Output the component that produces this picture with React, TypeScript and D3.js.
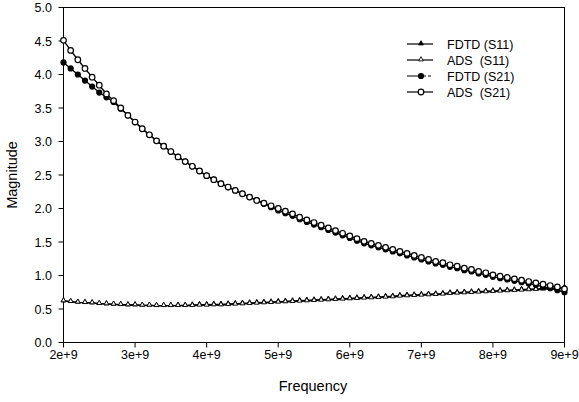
import React from 'react';
import * as d3 from 'd3';

// frequency samples, in units of 1e9 Hz
const freqs = [
  2.0, 2.1, 2.2, 2.3, 2.4, 2.5, 2.6, 2.7, 2.8, 2.9,
  3.0, 3.1, 3.2, 3.3, 3.4, 3.5, 3.6, 3.7, 3.8, 3.9,
  4.0, 4.1, 4.2, 4.3, 4.4, 4.5, 4.6, 4.7, 4.8, 4.9,
  5.0, 5.1, 5.2, 5.3, 5.4, 5.5, 5.6, 5.7, 5.8, 5.9,
  6.0, 6.1, 6.2, 6.3, 6.4, 6.5, 6.6, 6.7, 6.8, 6.9,
  7.0, 7.1, 7.2, 7.3, 7.4, 7.5, 7.6, 7.7, 7.8, 7.9,
  8.0, 8.1, 8.2, 8.3, 8.4, 8.5, 8.6, 8.7, 8.8, 8.9, 9.0,
];

const fdtdS11 = [
  0.62, 0.61, 0.60, 0.595, 0.59, 0.58, 0.575, 0.57, 0.565, 0.56,
  0.56, 0.555, 0.555, 0.55, 0.55, 0.55, 0.555, 0.555, 0.56, 0.565,
  0.565, 0.57, 0.57, 0.575, 0.58, 0.585, 0.59, 0.595, 0.60, 0.605,
  0.61, 0.615, 0.62, 0.625, 0.63, 0.635, 0.64, 0.645, 0.65, 0.655,
  0.66, 0.665, 0.67, 0.675, 0.68, 0.685, 0.69, 0.70, 0.705, 0.71,
  0.715, 0.72, 0.725, 0.73, 0.74, 0.745, 0.75, 0.755, 0.76, 0.765,
  0.77, 0.775, 0.78, 0.785, 0.79, 0.795, 0.80, 0.805, 0.81, 0.815, 0.82,
];

const adsS11 = [
  0.62, 0.61, 0.60, 0.595, 0.59, 0.58, 0.575, 0.57, 0.565, 0.56,
  0.56, 0.555, 0.555, 0.55, 0.55, 0.55, 0.55, 0.55, 0.55, 0.555,
  0.555, 0.56, 0.56, 0.565, 0.57, 0.575, 0.58, 0.585, 0.59, 0.595,
  0.60, 0.605, 0.61, 0.615, 0.62, 0.625, 0.63, 0.635, 0.64, 0.645,
  0.65, 0.655, 0.66, 0.665, 0.67, 0.675, 0.68, 0.69, 0.695, 0.70,
  0.705, 0.71, 0.715, 0.72, 0.73, 0.735, 0.74, 0.745, 0.75, 0.755,
  0.76, 0.765, 0.77, 0.775, 0.78, 0.785, 0.79, 0.795, 0.80, 0.805, 0.81,
];

const fdtdS21 = [
  4.18, 4.09, 4.00, 3.91, 3.82, 3.73, 3.66, 3.59, 3.49, 3.39,
  3.29, 3.19, 3.10, 3.01, 2.93, 2.85, 2.77, 2.70, 2.63, 2.56,
  2.49, 2.43, 2.37, 2.32, 2.27, 2.22, 2.17, 2.12, 2.07, 2.02,
  1.97, 1.93, 1.89, 1.84, 1.80, 1.76, 1.72, 1.68, 1.64, 1.60,
  1.56, 1.52, 1.48, 1.45, 1.42, 1.39, 1.36, 1.33, 1.30, 1.27,
  1.24, 1.21, 1.18, 1.16, 1.13, 1.11, 1.08, 1.06, 1.03, 1.01,
  0.98, 0.96, 0.94, 0.92, 0.90, 0.88, 0.86, 0.83, 0.81, 0.78, 0.75,
];

const adsS21 = [
  4.51, 4.36, 4.22, 4.09, 3.96, 3.84, 3.71, 3.61, 3.50, 3.39,
  3.29, 3.19, 3.10, 3.01, 2.93, 2.85, 2.77, 2.70, 2.63, 2.56,
  2.49, 2.43, 2.37, 2.32, 2.27, 2.22, 2.17, 2.12, 2.08, 2.04,
  2.00, 1.96, 1.92, 1.87, 1.83, 1.79, 1.75, 1.71, 1.67, 1.63,
  1.59, 1.55, 1.51, 1.48, 1.45, 1.42, 1.39, 1.36, 1.33, 1.30,
  1.27, 1.24, 1.21, 1.19, 1.16, 1.14, 1.11, 1.09, 1.06, 1.04,
  1.01, 0.99, 0.97, 0.95, 0.93, 0.91, 0.89, 0.87, 0.85, 0.83, 0.80,
];

const seriesNames = ['FDTD (S11)', 'ADS  (S11)', 'FDTD (S21)', 'ADS  (S21)'];
const xTicks = [2, 3, 4, 5, 6, 7, 8, 9];
const yTicks = [0, 0.5, 1, 1.5, 2, 2.5, 3, 3.5, 4, 4.5, 5];

const W = 579;
const H = 402;
const FONT = '"Liberation Sans", Arial, sans-serif';

const x = d3.scaleLinear().domain([2, 9]).range([63.5, 564.5]);
const y = d3.scaleLinear().domain([0, 5]).range([342.5, 7.5]);

const tri = d3.symbol().type(d3.symbolTriangle).size(10)();

type Kind = 'triFill' | 'triOpen' | 'dotFill' | 'dotOpen';

const Marker = ({ kind, cx, cy }: { kind: Kind; cx: number; cy: number }) => {
  if (kind === 'triFill' || kind === 'triOpen') {
    return (
      <path
        d={tri as string}
        transform={`translate(${cx},${cy - 0.5})`}
        fill={kind === 'triFill' ? '#000' : '#fff'}
        stroke="#000"
        strokeWidth={0.9}
      />
    );
  }
  return (
    <circle
      cx={cx}
      cy={cy}
      r={kind === 'dotFill' ? 2.5 : 2.8}
      fill={kind === 'dotFill' ? '#000' : '#fff'}
      stroke="#000"
      strokeWidth={1.2}
    />
  );
};

const series: { name: string; values: number[]; kind: Kind }[] = [
  { name: seriesNames[0], values: fdtdS11, kind: 'triFill' },
  { name: seriesNames[1], values: adsS11, kind: 'triOpen' },
  { name: seriesNames[2], values: fdtdS21, kind: 'dotFill' },
  { name: seriesNames[3], values: adsS21, kind: 'dotOpen' },
];

export default function App() {
  const line = d3
    .line<number>()
    .x((_, i) => x(freqs[i]))
    .y((d) => y(d));

  return (
    <svg
      width={W}
      height={H}
      style={{ position: 'absolute', left: 0, top: 0, background: '#fff' }}
      fontFamily={FONT}
    >
      <rect x={0} y={0} width={W} height={H} fill="#fff" />

      {/* plot frame */}
      <rect
        x={x(2)}
        y={y(5)}
        width={x(9) - x(2)}
        height={y(0) - y(5)}
        fill="none"
        stroke="#000"
        strokeWidth={1}
      />

      {/* y axis */}
      {yTicks.map((t) => (
        <g key={t}>
          <line x1={x(2) - 5} x2={x(2)} y1={y(t)} y2={y(t)} stroke="#000" />
          <text x={52} y={y(t) + 4.5} textAnchor="end" fontSize={12.5}>
            {d3.format('.1f')(t)}
          </text>
        </g>
      ))}

      {/* x axis */}
      {xTicks.map((t) => (
        <g key={t}>
          <line x1={x(t)} x2={x(t)} y1={y(0)} y2={y(0) + 5} stroke="#000" />
          <text x={x(t)} y={359} textAnchor="middle" fontSize={12.5}>
            {`${t}e+9`}
          </text>
        </g>
      ))}

      <text x={313} y={391} textAnchor="middle" fontSize={14.5}>
        Frequency
      </text>
      <text
        transform={`translate(17,175) rotate(-90)`}
        textAnchor="middle"
        fontSize={14.5}
      >
        Magnitude
      </text>

      {/* series */}
      {series.map((s) => (
        <g key={s.name}>
          <path d={line(s.values) as string} fill="none" stroke="#000" strokeWidth={1.3} />
          {s.values.map((v, i) => (
            <Marker key={i} kind={s.kind} cx={x(freqs[i])} cy={y(v)} />
          ))}
        </g>
      ))}

      {/* legend */}
      {series.map((s, i) => {
        const ly = 44 + i * 16;
        return (
          <g key={s.name}>
            <line
              x1={407}
              x2={433}
              y1={ly}
              y2={ly}
              stroke="#000"
              strokeWidth={1.2}
              strokeDasharray={s.kind === 'dotFill' ? '15 2 2 2 3 2' : undefined}
            />
            <Marker kind={s.kind} cx={421} cy={ly} />
            <text x={447} y={ly + 4.5} fontSize={12.5} style={{ whiteSpace: 'pre' }}>
              {s.name}
            </text>
          </g>
        );
      })}
    </svg>
  );
}
